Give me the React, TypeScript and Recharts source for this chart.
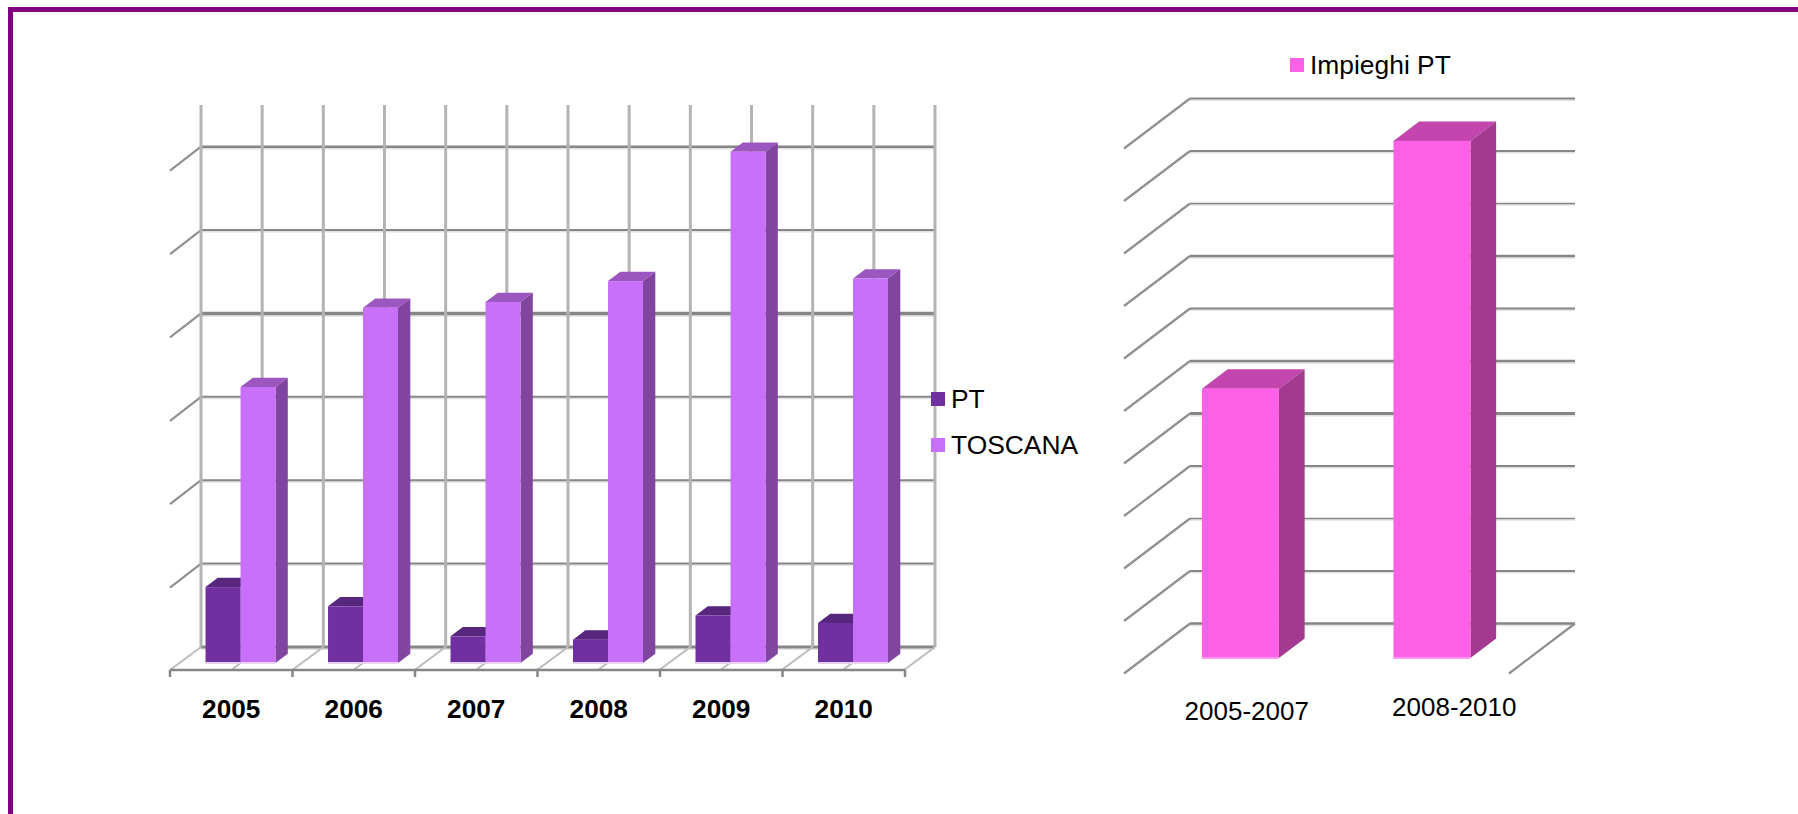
import { BarChart, Bar, XAxis, YAxis, CartesianGrid, Legend } from 'recharts';

const W = 1798;
const H = 814;
const FONT = '"Liberation Sans", Arial, sans-serif';

const YEARS = ['2005', '2006', '2007', '2008', '2009', '2010'];
const PT = [0.91, 0.68, 0.32, 0.28, 0.57, 0.48];
const TOSCANA = [3.31, 4.26, 4.33, 4.58, 6.13, 4.61];
const YEAR_TICKS = [0, 1, 2, 3, 4, 5, 6];
const WALL_X_TICKS = [0, 0.5, 1, 1.5, 2, 2.5, 3, 3.5, 4, 4.5, 5, 5.5, 6];
const LEFT_Y_TICKS = [0, 1, 2, 3, 4, 5, 6];

const PERIODS = ['2005-2007', '2008-2010'];
const IMPIEGHI = [5.13, 9.85];
const RIGHT_Y_TICKS = [0, 1, 2, 3, 4, 5, 6, 7, 8, 9, 10];
const PERIOD_LABEL_SHIFT = [27, 43];
const PERIOD_LABEL_DY = [47, 43];

// the source image was resampled, so its grid lines are not all equally thick
const LEFT_WEIGHTS = [3, 2, 2, 2, 3.5, 2, 2.5];
const RIGHT_WEIGHTS = [2.5, 2, 1.5, 2, 3, 2.5, 2, 2.5, 1.5, 2, 2];

const yearRows = YEARS.map((year, i) => ({ year, slot: i, PT: PT[i], TOSCANA: TOSCANA[i] }));
const wallRows = WALL_X_TICKS.map((pos) => ({ pos }));
const periodRows = PERIODS.map((period, i) => ({ period, value: IMPIEGHI[i] }));

type BoxStyle = { dx: number; dy: number; depthX: number; depthY: number; top: string; side: string; edge: string };

// front face comes from the bar scale, the rest is faked 3d
function box(s: BoxStyle) {
  return (p: any) => {
    const x = p.x + s.dx;
    const y = p.y + s.dy;
    const { width: w, height: h } = p;
    return (
      <g>
        <polygon points={`${x},${y} ${x + s.depthX},${y - s.depthY} ${x + w + s.depthX},${y - s.depthY} ${x + w},${y}`} fill={s.top} />
        <polygon points={`${x + w},${y} ${x + w + s.depthX},${y - s.depthY} ${x + w + s.depthX},${y + h - s.depthY} ${x + w},${y + h}`} fill={s.side} />
        <rect x={x} y={y} width={w} height={h} fill={p.fill} />
        <rect x={x} y={y + h - 1} width={w} height={2} fill={s.edge} />
      </g>
    );
  };
}

function wallLines(depthX: number, depthY: number, weights: number[], skipLast: boolean) {
  return (p: any) => {
    const isBase = p.index === 0;
    const weight = weights[p.index] ?? 2;
    return (
      <g key={p.key}>
        <line x1={p.x1} y1={p.y1 + weight / 2 + 0.7} x2={p.x2} y2={p.y2 + weight / 2 + 0.7} stroke="#e2e2e2" strokeWidth={1.5} />
        <line x1={p.x1} y1={p.y1} x2={p.x2} y2={p.y2} stroke="#868686" strokeWidth={weight} />
        {!(isBase && skipLast) && (
          <line x1={p.x1} y1={p.y1} x2={p.x1 - depthX} y2={p.y1 + depthY} stroke="#909090" strokeWidth={2.2} />
        )}
        {isBase && !skipLast && (
          <line x1={p.x2} y1={p.y2} x2={p.x2 - depthX} y2={p.y2 + depthY} stroke="#909090" strokeWidth={2.2} />
        )}
      </g>
    );
  };
}

function wallVerticals(p: any) {
  return (
    <g key={p.key}>
      <line x1={p.x1} y1={p.y1} x2={p.x2} y2={p.y2} stroke="#b4b4b4" strokeWidth={3} />
      <line x1={p.x2} y1={p.y2} x2={p.x2 - 31} y2={p.y2 + 23} stroke="#bcbcbc" strokeWidth={2} />
    </g>
  );
}

function YearTick({ x, y, payload }: any) {
  return (
    <text x={x} y={y} dy={41} textAnchor="middle" fontFamily={FONT} fontSize={26.2} fontWeight="bold" fill="#000">
      {payload.value}
    </text>
  );
}

function PeriodTick({ x, y, payload, index }: any) {
  return (
    <text x={x + PERIOD_LABEL_SHIFT[index]} y={y} dy={PERIOD_LABEL_DY[index]} textAnchor="middle" fontFamily={FONT} fontSize={26} fill="#000">
      {payload.value}
    </text>
  );
}

function legendContent(rowHeight: number) {
  return ({ payload }: any) => (
    <div style={{ fontFamily: FONT, fontSize: 26.4, color: '#000' }}>
      {payload.map((item: any) => (
        <div key={item.value} style={{ display: 'flex', alignItems: 'center', height: rowHeight }}>
          <span style={{ width: 14, height: 14, background: item.color, marginRight: 6 }} />
          {item.value}
        </div>
      ))}
    </div>
  );
}

const layer = { position: 'absolute', left: 0, top: 0 } as const;

export default function App() {
  return (
    <div style={{ position: 'fixed', left: 0, top: 0, width: W, height: H, overflow: 'hidden', background: '#fff' }}>
      <div style={{ position: 'absolute', left: 8, top: 7, width: W, height: H, borderLeft: '5px solid #800080', borderTop: '5px solid #800080' }} />

      {/* left chart: back wall */}
      <div style={layer}>
        <BarChart width={W} height={H} data={wallRows} margin={{ left: 201, right: W - 935, top: 105, bottom: H - 647 }}>
          <XAxis xAxisId="wall" dataKey="pos" type="number" domain={[0, 6]} ticks={WALL_X_TICKS} hide />
          <YAxis type="number" domain={[0, 6.5]} ticks={LEFT_Y_TICKS} allowDataOverflow hide />
          <CartesianGrid xAxisId="wall" syncWithTicks horizontal={wallLines(31, 24, LEFT_WEIGHTS, true)} vertical={wallVerticals} />
        </BarChart>
      </div>

      {/* left chart: bars, floor edge and legend */}
      <div style={layer}>
        <BarChart width={W} height={H} data={yearRows} margin={{ left: 170, right: W - 905, top: 128, bottom: H - 670 - 57 }} barCategoryGap="21.4%" barGap={0}>
          <XAxis xAxisId="edges" dataKey="slot" type="number" domain={[0, 6]} ticks={YEAR_TICKS} allowDataOverflow tick={() => <g />} tickSize={7} height={7} stroke="#868686" strokeWidth={2.5} />
          <XAxis xAxisId="years" dataKey="year" axisLine={false} tickLine={false} height={50} tickMargin={0} tickSize={0} tick={<YearTick />} interval={0} />
          <YAxis type="number" domain={[0, 6.5]} hide />
          <Bar xAxisId="years" dataKey="PT" fill="#7030a0" isAnimationActive={false} shape={box({ dx: 9.3, dy: -7, depthX: 12.3, depthY: 9.3, top: '#57267d', side: '#4f2272', edge: '#e6d0f2' })} />
          <Bar xAxisId="years" dataKey="TOSCANA" fill="#c870fa" isAnimationActive={false} shape={box({ dx: 9.3, dy: -7, depthX: 12.3, depthY: 9.3, top: '#9c56c0', side: '#80469f', edge: '#ecd4fd' })} />
          <Legend layout="vertical" align="center" verticalAlign="middle" wrapperStyle={{ left: 931, top: 376, width: 200 }} content={legendContent(46)} />
        </BarChart>
      </div>

      {/* right chart: back wall */}
      <div style={layer}>
        <BarChart width={W} height={H} data={periodRows} margin={{ left: 1190, right: W - 1575, top: 98.5, bottom: H - 623.5 }}>
          <XAxis dataKey="period" hide />
          <YAxis type="number" domain={[0, 10]} ticks={RIGHT_Y_TICKS} allowDataOverflow hide />
          <CartesianGrid syncWithTicks vertical={false} horizontal={wallLines(66, 50, RIGHT_WEIGHTS, false)} />
        </BarChart>
      </div>

      {/* right chart: bars and legend */}
      <div style={layer}>
        <BarChart width={W} height={H} data={periodRows} margin={{ left: 1124, right: W - 1507, top: 148, bottom: H - 673 - 50 }} barCategoryGap="30%">
          <XAxis dataKey="period" axisLine={false} tickLine={false} height={50} tickSize={0} tickMargin={0} tick={<PeriodTick />} interval={0} />
          <YAxis type="number" domain={[0, 10]} hide />
          <Bar dataKey="value" name="Impieghi PT" fill="#ff60e8" isAnimationActive={false} shape={box({ dx: 20.5, dy: -15, depthX: 25.7, depthY: 19.5, top: '#c246ae', side: '#a33a8f', edge: '#ff98ef' })} />
          <Legend layout="vertical" align="center" verticalAlign="middle" wrapperStyle={{ left: 1290, top: 42, width: 260 }} content={legendContent(46)} />
        </BarChart>
      </div>
    </div>
  );
}
